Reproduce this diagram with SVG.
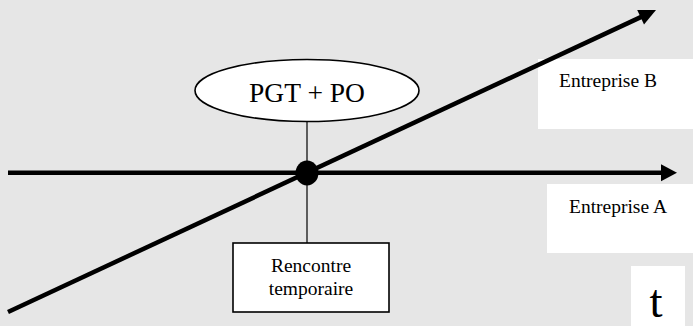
<svg xmlns="http://www.w3.org/2000/svg" width="693" height="326" viewBox="0 0 693 326">
<style>
.t{font-family:'Liberation Serif',serif;fill:#000;text-anchor:middle}
.axis{stroke:#000;stroke-width:4.5;fill:none}
.thin{stroke:#000;stroke-width:1.2;fill:none}
.box{fill:#fff;stroke:#000;stroke-width:1.6}
.lbl{fill:#fff}
</style>
<rect x="0" y="0" width="693" height="326" fill="#e6e6e6"/>
<g id="label-boxes">
<rect class="lbl" x="538" y="59" width="155" height="70"/>
<rect class="lbl" x="547" y="184" width="146" height="69"/>
<rect class="lbl" x="631" y="266" width="54" height="60"/>
</g>
<g id="connectors">
<line class="thin" x1="307" y1="122" x2="307" y2="243"/>
<line class="axis" x1="8" y1="172.7" x2="663" y2="172.7"/>
<polygon points="661,164.2 677,172.7 661,181.2" fill="#000"/>
<line class="axis" x1="8" y1="312" x2="644" y2="15.6"/>
<polygon points="656,10 644,24.4 637.2,10" fill="#000"/>
</g>
<g id="node-pgt-po">
<ellipse class="box" cx="307" cy="90.5" rx="112" ry="31"/>
<text class="t" font-family="Liberation Serif, serif" x="307" y="102" font-size="27.5">PGT + PO</text>
</g>
<g id="node-rencontre">
<rect class="box" x="233" y="243" width="156" height="69"/>
<text class="t" font-family="Liberation Serif, serif" x="311" y="272" font-size="19.5">Rencontre</text>
<text class="t" font-family="Liberation Serif, serif" x="311" y="295" font-size="19.5">temporaire</text>
</g>
<g id="node-intersection">
<ellipse cx="307" cy="173" rx="11.5" ry="12.5" fill="#000"/>
</g>
<g id="node-entreprise-b">
<text class="t" font-family="Liberation Serif, serif" x="608" y="87" font-size="19.5">Entreprise B</text>
</g>
<g id="node-entreprise-a">
<text class="t" font-family="Liberation Serif, serif" x="618" y="213" font-size="19.5">Entreprise A</text>
</g>
<g id="node-t">
<text class="t" font-family="Liberation Serif, serif" x="656" y="317" font-size="47">t</text>
</g>
</svg>
